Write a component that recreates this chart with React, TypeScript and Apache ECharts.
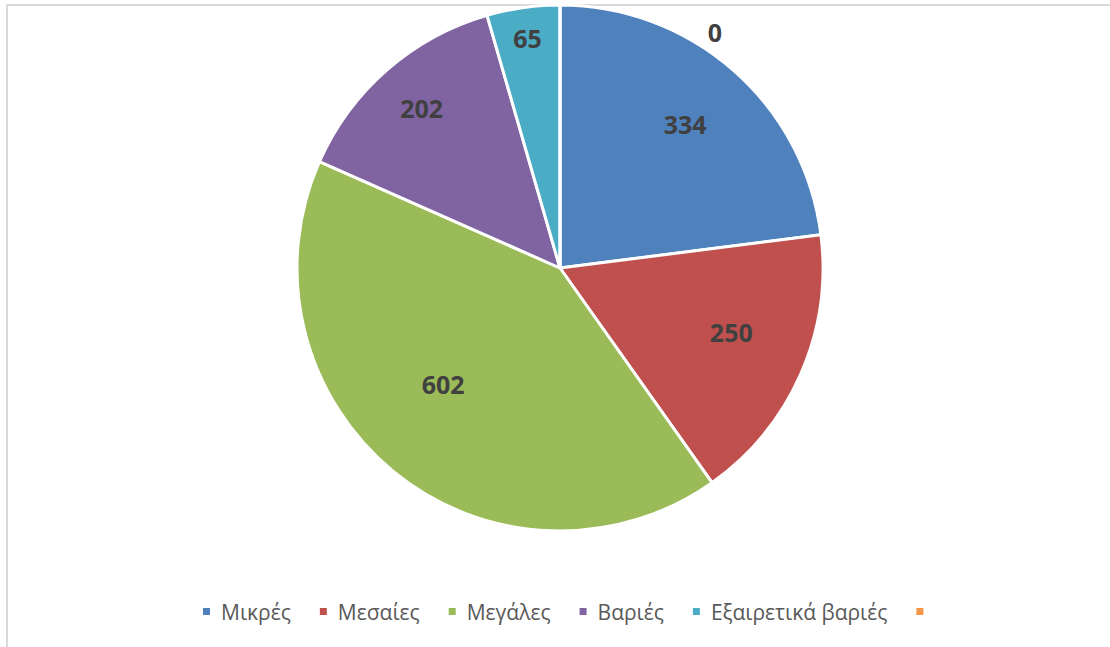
import React, { useEffect, useRef } from "react";
import * as echarts from "echarts";

const categories = ["Μικρές", "Μεσαίες", "Μεγάλες", "Βαριές", "Εξαιρετικά βαριές", " "];
const values = [334, 250, 602, 202, 65, 0];
const colors = ["#4F81BD", "#C0504D", "#9BBB59", "#8064A2", "#4BACC6", "#F79646"];
// style: radial position of each label as a fraction of the radius, plus a small nudge
const labelRadius = [0.72, 0.7, 0.63, 0.8, 0.87, null];
const labelNudge = [[-2, 0], [0, -11], [-10, -15], [2, 1], [0, 0], [0, 0]];
const zeroLabelOffset = [155, -102];

const RADIUS = 263;

export default function App() {
  const ref = useRef<HTMLDivElement>(null);
  useEffect(() => {
    if (!ref.current) return;
    const chart = echarts.init(ref.current, undefined, { renderer: "svg" });
    const total = values.reduce((a, b) => a + b, 0);
    let cum = 0;
    const data = values.map((v, i) => {
      const mid = ((cum + v / 2) / total) * Math.PI * 2;
      cum += v;
      const f = labelRadius[i];
      const n = labelNudge[i];
      const offset =
        f == null
          ? zeroLabelOffset
          : [(f - 0.5) * RADIUS * Math.sin(mid) + n[0], -(f - 0.5) * RADIUS * Math.cos(mid) + n[1]];
      return {
        name: categories[i],
        value: v,
        itemStyle: { color: colors[i] },
        label: { offset },
      };
    });
    chart.setOption({
      animation: false,
      legend: {
        bottom: 20,
        left: 196,
        icon: "rect",
        itemWidth: 9,
        itemHeight: 9,
        itemGap: 27,
        textStyle: {
          fontFamily: "Open Sans",
          fontSize: 21,
          color: "#595959",
          padding: [0, 0, 0, 5],
        },
        data: categories,
      },
      series: [
        {
          type: "pie",
          center: [560, 268],
          radius: [0, RADIUS],
          startAngle: 90,
          clockwise: true,
          avoidLabelOverlap: false,
          itemStyle: { borderColor: "#FFFFFF", borderWidth: 3 },
          label: {
            show: true,
            position: "inside",
            formatter: "{c}",
            fontFamily: "Open Sans",
            fontWeight: "bold",
            fontSize: 25,
            color: "#404040",
          },
          labelLine: { show: false },
          emphasis: { disabled: true },
          data,
        },
      ],
    });
    return () => chart.dispose();
  }, []);
  return (
    <div style={{ position: "fixed", left: 0, top: 0, width: 1110, height: 647, background: "#fff", overflow: "hidden" }}>
      <div
        style={{
          position: "absolute",
          left: 6,
          top: 4,
          width: 1200,
          height: 800,
          borderTop: "2px solid #D9D9D9",
          borderLeft: "2px solid #D9D9D9",
        }}
      />
      <div ref={ref} style={{ position: "absolute", left: 0, top: 0, width: 1110, height: 647 }} />
    </div>
  );
}
